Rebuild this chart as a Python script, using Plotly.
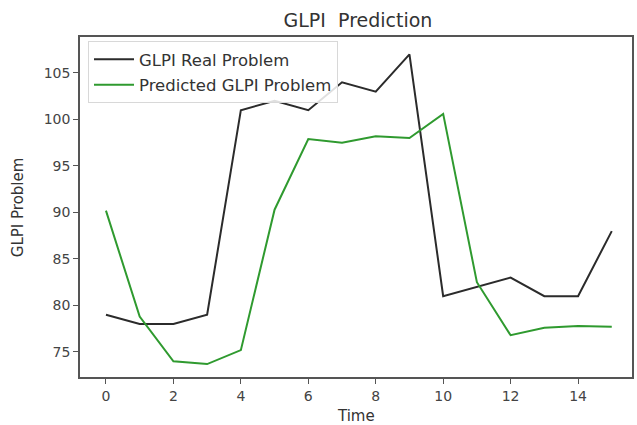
import plotly.graph_objects as go

time = list(range(16))
real_problem = [79, 78, 78, 79, 101, 102, 101, 104, 103, 107, 81, 82, 83, 81, 81, 88]
predicted_problem = [90.2, 78.8, 74.0, 73.7, 75.2, 90.3, 97.9, 97.5, 98.2, 98.0, 100.6, 82.5, 76.8, 77.6, 77.8, 77.7]
x_ticks = [0, 2, 4, 6, 8, 10, 12, 14]
y_ticks = [75, 80, 85, 90, 95, 100, 105]

fig = go.Figure()
fig.add_trace(go.Scatter(x=time, y=real_problem, mode="lines", name="GLPI Real Problem",
                         legendgroup="a", line=dict(color="#2b2b2b", width=2)))
fig.add_trace(go.Scatter(x=time, y=predicted_problem, mode="lines", name="Predicted GLPI Problem",
                         legendgroup="b", line=dict(color="#2f9a2f", width=2)))

font_family = "DejaVu Sans, sans-serif"
fig.update_layout(
    width=637, height=425,
    margin=dict(l=80, r=5, t=37, b=48, autoexpand=False),
    paper_bgcolor="white", plot_bgcolor="white",
    font=dict(family=font_family, color="#333333", size=13),
    title=dict(text="GLPI  Prediction", x=0.562, xanchor="center", y=0.953, yanchor="middle",
               font=dict(size=19, color="#333333")),
    showlegend=True,
    legend=dict(x=0.0145, y=0.988, xanchor="left", yanchor="top",
                bgcolor="rgba(255,255,255,0.85)", bordercolor="#d8d8d8", borderwidth=1,
                font=dict(size=16.5, color="#333333"), traceorder="grouped", tracegroupgap=1,
                itemwidth=40),
    annotations=[
        dict(text="Time", xref="paper", yref="paper", x=0.5, y=-0.115, yanchor="middle",
             showarrow=False, font=dict(size=15, color="#333333")),
        dict(text="GLPI Problem", xref="paper", yref="paper", x=-0.112, y=0.5, textangle=-90,
             xanchor="center", yanchor="middle", showarrow=False,
             font=dict(size=15, color="#333333")),
    ],
)
fig.update_xaxes(range=[-0.77, 15.6], tickvals=x_ticks, ticks="outside", ticklen=5,
                 tickcolor="#555555", showline=True, linecolor="#555555", linewidth=1.5,
                 mirror=True, showgrid=False, zeroline=False, automargin=False,
                 tickfont=dict(size=14, color="#444444"))
fig.update_yaxes(range=[72.31, 108.87], tickvals=y_ticks, ticks="outside", ticklen=5,
                 tickcolor="#555555", showline=True, linecolor="#555555", linewidth=1.5,
                 mirror=True, showgrid=False, zeroline=False, automargin=False,
                 tickfont=dict(size=14, color="#444444"))

fig.write_html("out.html", config={"displayModeBar": False},
               post_script="document.body.style.margin='0';")
